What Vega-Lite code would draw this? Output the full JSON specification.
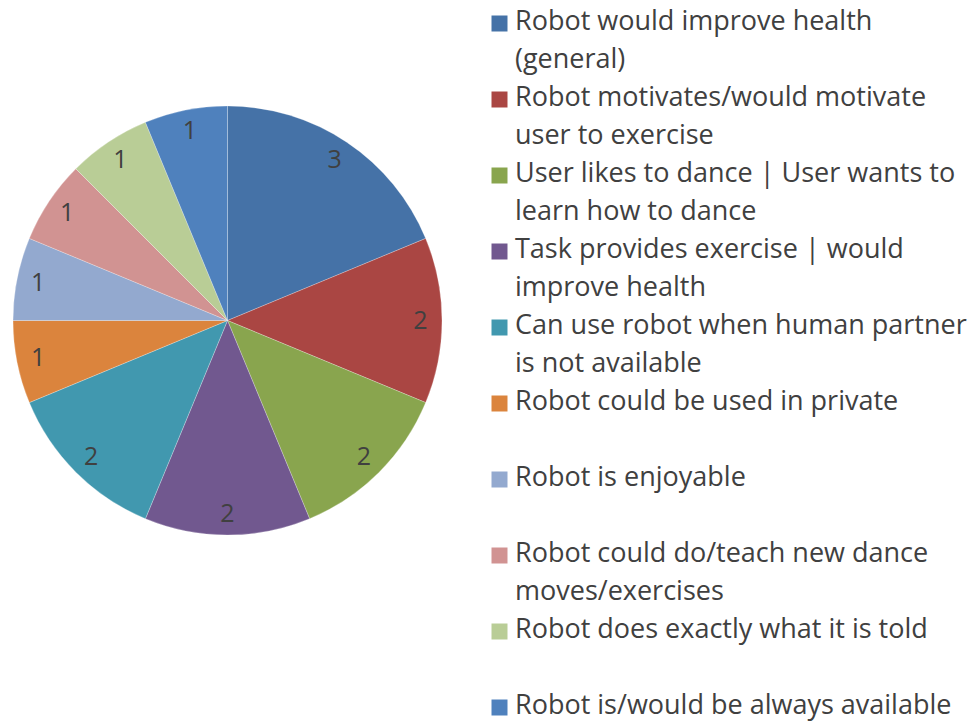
{
  "$schema": "https://vega.github.io/schema/vega-lite/v6.json",
  "width": 455,
  "height": 641,
  "padding": 0,
  "background": "white",
  "config": {
    "view": {"stroke": null},
    "font": "Open Sans",
    "style": {"guide-label": {"lineHeight": 38, "dy": -15}}
  },
  "data": {
    "values": [
      {"reason": "Robot would improve health\n(general)", "count": 3, "idx": 1},
      {"reason": "Robot motivates/would motivate\nuser to exercise", "count": 2, "idx": 2},
      {"reason": "User likes to dance | User wants to\nlearn how to dance", "count": 2, "idx": 3},
      {"reason": "Task provides exercise | would\nimprove health", "count": 2, "idx": 4},
      {"reason": "Can use robot when human partner\nis not available", "count": 2, "idx": 5},
      {"reason": "Robot could be used in private", "count": 1, "idx": 6},
      {"reason": "Robot is enjoyable", "count": 1, "idx": 7},
      {"reason": "Robot could do/teach new dance\nmoves/exercises", "count": 1, "idx": 8},
      {"reason": "Robot does exactly what it is told", "count": 1, "idx": 9},
      {"reason": "Robot is/would be always available", "count": 1, "idx": 10}
    ]
  },
  "encoding": {
    "theta": {"field": "count", "type": "quantitative", "stack": true},
    "order": {"field": "idx", "type": "quantitative"}
  },
  "layer": [
    {
      "mark": {"type": "arc", "outerRadius": 214.5, "stroke": "white", "strokeWidth": 0.5, "strokeOpacity": 0.5},
      "encoding": {
        "color": {
          "field": "reason",
          "type": "nominal",
          "scale": {
            "domain": [
              "Robot would improve health\n(general)",
              "Robot motivates/would motivate\nuser to exercise",
              "User likes to dance | User wants to\nlearn how to dance",
              "Task provides exercise | would\nimprove health",
              "Can use robot when human partner\nis not available",
              "Robot could be used in private",
              "Robot is enjoyable",
              "Robot could do/teach new dance\nmoves/exercises",
              "Robot does exactly what it is told",
              "Robot is/would be always available"
            ],
            "range": ["#4572A7", "#AA4643", "#89A54E", "#71588F", "#4198AF", "#DB843D", "#93A9CF", "#D19392", "#B9CD96", "#4F81BD"]
          },
          "legend": {
            "orient": "none",
            "legendX": 486,
            "legendY": 10,
            "title": null,
            "symbolType": "square",
            "symbolSize": 256,
            "symbolStrokeWidth": 0,
            "labelFont": "Open Sans",
            "labelFontSize": 27,
            "labelColor": "#404040",
            "labelLimit": 0,
            "labelOffset": 2,
            "labelBaseline": "top",
            "rowPadding": 10,
            "labelExpr": "length(split(datum.label, '\\n')) > 1 ? split(datum.label, '\\n') : [datum.label, ' ']"
          }
        }
      }
    },
    {
      "mark": {"type": "text", "radius": 193, "fontSize": 25, "color": "#404040", "font": "Open Sans"},
      "encoding": {"text": {"field": "count", "type": "quantitative"}}
    }
  ]
}
